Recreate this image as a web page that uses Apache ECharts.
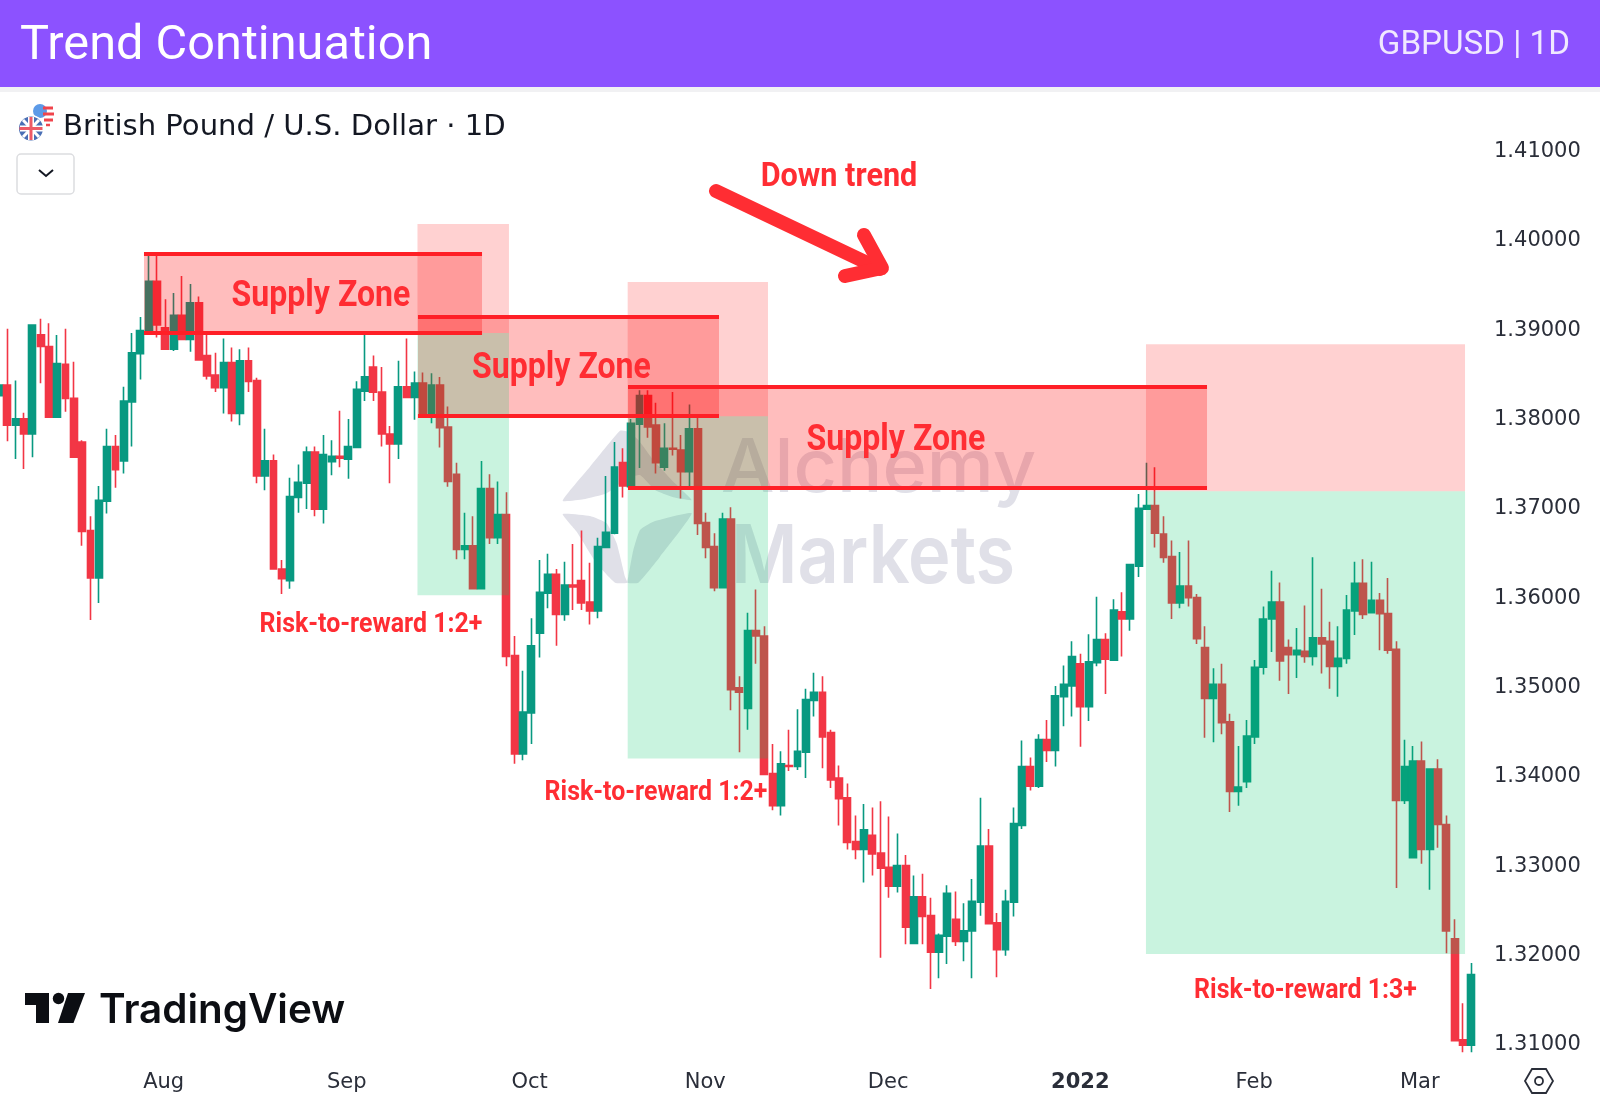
<!DOCTYPE html>
<html>
<head>
<meta charset="utf-8">
<title>Trend Continuation</title>
<script src="https://cdn.jsdelivr.net/npm/echarts@6/dist/echarts.min.js"></script>
<style>
  html, body { margin: 0; padding: 0; background: #fff; }
  #chart { width: 1600px; height: 1095px; }
</style>
</head>
<body>
<div id="chart"></div>
<script>
// daily candles
var opens = [
  1.3824,1.3836,1.3791,1.3798,1.3781,1.3892,1.3879,1.3800,1.3859,1.3821,
  1.3772,1.3673,1.3620,1.3706,1.3767,1.3751,1.3817,1.3871,1.3897,1.3952,
  1.3900,1.3876,1.3914,1.3887,1.3928,1.3869,1.3847,1.3833,1.3861,1.3804,
  1.3863,1.3841,1.3734,1.3751,1.3630,1.3617,1.3710,1.3726,1.3761,1.3697,
  1.3750,1.3756,1.3753,1.3766,1.3829,1.3856,1.3828,1.3781,1.3770,1.3834,
  1.3822,1.3838,1.3804,1.3836,1.3789,1.3736,1.3652,1.3656,1.3608,1.3720,
  1.3665,1.3691,1.3533,1.3423,1.3469,1.3558,1.3603,1.3624,1.3579,1.3612,
  1.3617,1.3593,1.3583,1.3654,1.3670,1.3749,1.3722,1.3792,1.3824,1.3791,
  1.3744,1.3765,1.3763,1.3739,1.3787,1.3682,1.3655,1.3609,1.3686,1.3497,
  1.3474,1.3561,1.3555,1.3401,1.3365,1.3410,1.3409,1.3425,1.3483,1.3492,
  1.3447,1.3396,1.3374,1.3325,1.3316,1.3332,1.3312,1.3296,1.3275,1.3298,
  1.3211,1.3263,1.3242,1.3201,1.3219,1.3238,1.3213,1.3225,1.3257,1.3320,
  1.3234,1.3204,1.3257,1.3343,1.3409,1.3387,1.3439,1.3427,1.3487,1.3499,
  1.3524,1.3476,1.3525,1.3551,1.3528,1.3582,1.3574,1.3633,1.3697,1.3701,
  1.3669,1.3644,1.3592,1.3611,1.3598,1.3542,1.3485,1.3501,1.3459,1.3381,
  1.3392,1.3442,1.3520,1.3574,1.3593,1.3542,1.3534,1.3538,1.3532,1.3553,
  1.3549,1.3521,1.3530,1.3583,1.3614,1.3581,1.3595,1.3580,1.3540,1.3371,
  1.3307,1.3415,1.3316,1.3406,1.3344,1.3216,1.3103,1.3097
];
var closes = [
  1.3836,1.3791,1.3798,1.3781,1.3903,1.3879,1.3800,1.3860,1.3821,1.3755,
  1.3672,1.3620,1.3707,1.3767,1.3741,1.3818,1.3872,1.3897,1.3952,1.3903,
  1.3876,1.3914,1.3887,1.3928,1.3864,1.3846,1.3833,1.3861,1.3804,1.3863,
  1.3840,1.3734,1.3751,1.3630,1.3619,1.3711,1.3727,1.3761,1.3697,1.3758,
  1.3756,1.3754,1.3767,1.3831,1.3845,1.3828,1.3781,1.3770,1.3834,1.3822,
  1.3838,1.3802,1.3836,1.3788,1.3728,1.3652,1.3656,1.3608,1.3720,1.3665,
  1.3691,1.3532,1.3423,1.3470,1.3544,1.3604,1.3624,1.3579,1.3612,1.3610,
  1.3592,1.3583,1.3655,1.3671,1.3744,1.3723,1.3793,1.3824,1.3789,1.3749,
  1.3765,1.3764,1.3739,1.3787,1.3681,1.3654,1.3609,1.3686,1.3495,1.3492,
  1.3561,1.3555,1.3400,1.3365,1.3412,1.3409,1.3426,1.3484,1.3492,1.3442,
  1.3394,1.3373,1.3324,1.3316,1.3338,1.3311,1.3295,1.3275,1.3298,1.3229,
  1.3263,1.3241,1.3201,1.3220,1.3267,1.3213,1.3225,1.3258,1.3320,1.3233,
  1.3204,1.3258,1.3345,1.3409,1.3387,1.3439,1.3427,1.3488,1.3501,1.3532,
  1.3476,1.3526,1.3551,1.3529,1.3584,1.3574,1.3635,1.3698,1.3701,1.3670,
  1.3643,1.3592,1.3611,1.3598,1.3552,1.3485,1.3501,1.3458,1.3381,1.3386,
  1.3443,1.3520,1.3574,1.3593,1.3527,1.3534,1.3539,1.3532,1.3553,1.3546,
  1.3521,1.3530,1.3584,1.3614,1.3579,1.3595,1.3580,1.3539,1.3371,1.3409,
  1.3415,1.3316,1.3406,1.3344,1.3225,1.3102,1.3097,1.3176
];
var lows = [
  1.3819,1.3773,1.3753,1.3742,1.3755,1.3838,1.3800,1.3800,1.3806,1.3755,
  1.3656,1.3573,1.3592,1.3692,1.3721,1.3737,1.3767,1.3842,1.3897,1.3889,
  1.3875,1.3874,1.3886,1.3873,1.3864,1.3842,1.3828,1.3804,1.3795,1.3791,
  1.3828,1.3726,1.3718,1.3630,1.3602,1.3608,1.3693,1.3697,1.3689,1.3681,
  1.3735,1.3744,1.3731,1.3766,1.3818,1.3818,1.3767,1.3726,1.3753,1.3822,
  1.3797,1.3802,1.3793,1.3766,1.3722,1.3641,1.3641,1.3608,1.3608,1.3658,
  1.3658,1.3521,1.3412,1.3416,1.3434,1.3531,1.3586,1.3544,1.3572,1.3584,
  1.3584,1.3568,1.3575,1.3654,1.3669,1.3710,1.3722,1.3743,1.3777,1.3737,
  1.3740,1.3757,1.3709,1.3722,1.3668,1.3642,1.3605,1.3609,1.3472,1.3425,
  1.3450,1.3524,1.3400,1.3360,1.3354,1.3404,1.3405,1.3396,1.3465,1.3407,
  1.3385,1.3343,1.3316,1.3305,1.3279,1.3287,1.3195,1.3262,1.3268,1.3210,
  1.3210,1.3210,1.3160,1.3172,1.3188,1.3208,1.3191,1.3172,1.3242,1.3232,
  1.3173,1.3197,1.3241,1.3339,1.3382,1.3385,1.3414,1.3409,1.3454,1.3465,
  1.3431,1.3460,1.3521,1.3490,1.3527,1.3532,1.3561,1.3621,1.3697,1.3654,
  1.3637,1.3574,1.3586,1.3588,1.3546,1.3441,1.3436,1.3445,1.3358,1.3365,
  1.3385,1.3434,1.3512,1.3537,1.3505,1.3490,1.3508,1.3525,1.3522,1.3513,
  1.3496,1.3487,1.3524,1.3556,1.3574,1.3581,1.3539,1.3535,1.3273,1.3367,
  1.3307,1.3300,1.3271,1.3318,1.3200,1.3102,1.3089,1.3089
];
var highs = [
  1.3841,1.3899,1.3841,1.3805,1.3903,1.3910,1.3905,1.3892,1.3899,1.3862,
  1.3774,1.3689,1.3723,1.3787,1.3780,1.3834,1.3894,1.3912,1.3981,1.3981,
  1.3932,1.3939,1.3958,1.3949,1.3935,1.3892,1.3872,1.3888,1.3878,1.3876,
  1.3878,1.3844,1.3787,1.3758,1.3640,1.3732,1.3747,1.3767,1.3767,1.3780,
  1.3774,1.3807,1.3798,1.3840,1.3892,1.3869,1.3856,1.3790,1.3863,1.3888,
  1.3851,1.3850,1.3849,1.3845,1.3812,1.3749,1.3693,1.3689,1.3751,1.3736,
  1.3728,1.3716,1.3555,1.3516,1.3575,1.3640,1.3647,1.3630,1.3638,1.3658,
  1.3673,1.3637,1.3665,1.3734,1.3772,1.3765,1.3798,1.3830,1.3830,1.3816,
  1.3793,1.3828,1.3780,1.3814,1.3800,1.3693,1.3670,1.3693,1.3699,1.3510,
  1.3581,1.3607,1.3566,1.3434,1.3426,1.3450,1.3473,1.3496,1.3514,1.3510,
  1.3450,1.3410,1.3390,1.3354,1.3367,1.3363,1.3370,1.3353,1.3334,1.3310,
  1.3287,1.3289,1.3262,1.3222,1.3276,1.3269,1.3256,1.3283,1.3374,1.3339,
  1.3245,1.3271,1.3363,1.3438,1.3419,1.3445,1.3461,1.3499,1.3522,1.3549,
  1.3535,1.3557,1.3599,1.3558,1.3596,1.3604,1.3636,1.3714,1.3749,1.3744,
  1.3689,1.3662,1.3649,1.3662,1.3602,1.3566,1.3519,1.3524,1.3468,1.3432,
  1.3461,1.3528,1.3588,1.3628,1.3615,1.3551,1.3564,1.3589,1.3643,1.3608,
  1.3571,1.3566,1.3601,1.3638,1.3641,1.3638,1.3603,1.3620,1.3549,1.3439,
  1.3432,1.3437,1.3406,1.3417,1.3354,1.3238,1.3144,1.3189
];
var priceTicks = [1.31, 1.32, 1.33, 1.34, 1.35, 1.36, 1.37, 1.38, 1.39, 1.40, 1.41];
var monthTicks = [19.8, 41.8, 63.8, 84.9, 106.9, 130, 150.9, 170.8];
var monthLabels = ['Aug', 'Sep', 'Oct', 'Nov', 'Dec', '2022', 'Feb', 'Mar'];

// [from candle, to candle, top price, bottom price]
var supplyZones = [
  [17.43, 58.07, 1.39824, 1.3894],
  [50.37, 86.56, 1.39119, 1.3801],
  [75.62, 145.23, 1.38335, 1.37204]
];
// [from candle, to candle, risk top, entry, reward bottom]
var rrBoxes = [
  [50.31, 61.31, 1.4016, 1.3894, 1.36006],
  [75.58, 92.45, 1.39511, 1.3801, 1.3418],
  [137.89, 176.25, 1.38816, 1.3717, 1.31991]
];

var RED = '#ff2d33';
var candles = opens.map(function (o, i) {
  return [i, o, closes[i], lows[i], highs[i]];
});

var areas = [];
supplyZones.forEach(function (z) {
  areas.push([
    { coord: [z[0], z[2]], itemStyle: { color: 'rgba(255,0,0,0.26)' } },
    { coord: [z[1], z[3]] }
  ]);
});
rrBoxes.forEach(function (b) {
  areas.push([
    { coord: [b[0], b[2]], itemStyle: { color: 'rgba(255,0,0,0.18)' } },
    { coord: [b[1], b[3]] }
  ]);
  areas.push([
    { coord: [b[0], b[3]], itemStyle: { color: 'rgba(0,196,105,0.21)' } },
    { coord: [b[1], b[4]] }
  ]);
});

var zoneLines = [];
supplyZones.forEach(function (z) {
  zoneLines.push([{ coord: [z[0], z[2]] }, { coord: [z[1], z[2]] }]);
  zoneLines.push([{ coord: [z[0], z[3]] }, { coord: [z[1], z[3]] }]);
});

function redText (text, x, y, size, scale) {
  return {
    type: 'text', x: x, y: y, scaleX: scale, z: 100,
    style: {
      text: text, fill: RED, align: 'center', verticalAlign: 'middle',
      font: 'bold ' + size + 'px Roboto'
    }
  };
}

function wmPoly (pts) {
  return {
    type: 'polygon', z: 1,
    shape: { points: pts.map(function (p) { return [540 + p[0] / 3, 410 + p[1] / 3]; }), smooth: 0.15 },
    style: { fill: '#e0e0e8' }
  };
}

function flagLine (x1, y1, x2, y2, color, w) {
  return {
    type: 'line', z: 101,
    shape: { x1: x1, y1: y1, x2: x2, y2: y2 },
    style: { stroke: color, lineWidth: w }
  };
}

var graphics = [
  // watermark, behind the candles
  wmPoly([[68,272],[150,170],[240,62],[265,65],[295,90],[340,150],[400,215],[455,270],[400,262],[345,240],[300,195],[262,205],[200,250],[130,268]]),
  wmPoly([[68,312],[150,318],[200,340],[230,400],[255,500],[262,518],[225,518],[170,460],[110,365]]),
  wmPoly([[455,310],[340,335],[300,360],[280,420],[265,500],[262,518],[295,518],[360,440]]),
  { type: 'text', z: 1, x: 721, y: 507, scaleX: 1.02, style: { text: 'Alchemy', fill: '#e0e0e8', font: '500 74px Inter', align: 'left', verticalAlign: 'bottom' } },
  { type: 'text', z: 1, x: 731, y: 599, scaleX: 0.89, style: { text: 'Markets', fill: '#e0e0e8', font: '600 81px Inter', align: 'left', verticalAlign: 'bottom' } },

  // header
  { type: 'rect', z: 90, shape: { x: 0, y: 0, width: 1600, height: 87 }, style: { fill: '#8c52ff' } },
  { type: 'rect', z: 89, shape: { x: 0, y: 87, width: 1600, height: 5 }, style: { fill: '#f1f1f3' } },
  { type: 'text', z: 100, x: 20, y: 47, style: { text: 'Trend Continuation', fill: '#fff', font: '48.7px Roboto', align: 'left', verticalAlign: 'middle' } },
  { type: 'text', z: 100, x: 1570, y: 46, style: { text: 'GBPUSD | 1D', fill: '#f0e8ff', font: '33.2px Roboto', align: 'right', verticalAlign: 'middle' } },

  // symbol line
  { type: 'circle', z: 100, shape: { cx: 43.5, cy: 115, r: 11 }, style: { fill: '#fff' } },
  flagLine(43, 108, 53, 108, '#f0444c', 3), flagLine(43, 114, 54, 114, '#f0444c', 3),
  flagLine(44, 120, 53, 120, '#f0444c', 3), flagLine(46, 125, 50, 125, '#f0444c', 2.5),
  { type: 'circle', z: 100, shape: { cx: 40, cy: 111, r: 7 }, style: { fill: '#5c9ae8' } },
  { type: 'circle', z: 100.5, shape: { cx: 31, cy: 128.5, r: 13.5 }, style: { fill: '#fff' } },
  { type: 'circle', z: 100.6, shape: { cx: 31, cy: 128.5, r: 12 }, style: { fill: '#4a6fb5' } },
  flagLine(23, 120, 39, 137, '#fff', 3), flagLine(39, 120, 23, 137, '#fff', 3),
  flagLine(31, 117, 31, 140, '#fff', 6), flagLine(20, 128.5, 43, 128.5, '#fff', 6),
  flagLine(31, 117, 31, 140, '#ee5a66', 3), flagLine(19.5, 128.5, 42.5, 128.5, '#ee5a66', 3),
  { type: 'text', z: 100, x: 63, y: 127, style: { text: 'British Pound / U.S. Dollar · 1D', fill: '#131722', font: '29.1px "DejaVu Sans"', align: 'left', verticalAlign: 'middle' } },
  { type: 'rect', z: 100, shape: { x: 17, y: 154, width: 57, height: 40, r: 4 }, style: { fill: '#fff', stroke: '#dcdde0', lineWidth: 1.5 } },
  { type: 'polyline', z: 101, shape: { points: [[39, 170], [46, 176], [53, 170]] }, style: { stroke: '#131722', lineWidth: 2, fill: null } },

  // annotations
  redText('Supply Zone', 321, 297, 36, 0.89),
  redText('Supply Zone', 561.5, 369, 36, 0.89),
  redText('Supply Zone', 896, 441, 36, 0.89),
  redText('Down trend', 839, 177, 34, 0.9),
  redText('Risk-to-reward 1:2+', 371, 625, 28, 0.89),
  redText('Risk-to-reward 1:2+', 656, 793, 28, 0.89),
  redText('Risk-to-reward 1:3+', 1305.5, 991, 28, 0.89),
  {
    type: 'polyline', z: 100,
    shape: { points: [[716, 191], [880, 269]] },
    style: { stroke: RED, lineWidth: 14, lineCap: 'round', fill: null }
  },
  {
    type: 'polyline', z: 100,
    shape: { points: [[864, 235], [882, 268], [845, 276]] },
    style: { stroke: RED, lineWidth: 14, lineCap: 'round', lineJoin: 'round', fill: null }
  },

  // TradingView mark
  { type: 'polygon', z: 100, shape: { points: [[25, 993], [49, 993], [49, 1023], [36, 1023], [36, 1005], [25, 1005]] }, style: { fill: '#0c0e13' } },
  { type: 'circle', z: 100, shape: { cx: 58.5, cy: 998.5, r: 5.7 }, style: { fill: '#0c0e13' } },
  { type: 'polygon', z: 100, shape: { points: [[68, 993], [85, 993], [73.5, 1023], [58, 1023]] }, style: { fill: '#0c0e13' } },
  { type: 'text', z: 100, x: 99, y: 1011, style: { text: 'TradingView', fill: '#0c0e13', font: '600 40.4px Inter', align: 'left', verticalAlign: 'middle' } },

  // chart settings button
  {
    type: 'polygon', z: 100,
    shape: { points: [[1525, 1081], [1532, 1069], [1546, 1069], [1553, 1081], [1546, 1093], [1532, 1093]] },
    style: { fill: '#fff', stroke: '#2a2e39', lineWidth: 1.8 }
  },
  { type: 'circle', z: 101, shape: { cx: 1539, cy: 1081, r: 4 }, style: { fill: '#fff', stroke: '#2a2e39', lineWidth: 1.8 } }
];

var chart = echarts.init(document.getElementById('chart'), null, { renderer: 'canvas' });
chart.setOption({
  animation: false,
  backgroundColor: '#fff',
  grid: { left: 0, right: 112, top: 90, bottom: 33 },
  xAxis: {
    type: 'value',
    min: 0.12,
    max: 179.01,
    axisLine: { show: false },
    axisTick: { show: false },
    splitLine: { show: false },
    axisLabel: {
      customValues: monthTicks,
      margin: 10,
      color: '#2a2e39',
      fontFamily: '"DejaVu Sans"',
      fontSize: 21,
      hideOverlap: false,
      formatter: function (v) {
        var s = monthLabels[monthTicks.indexOf(v)];
        return s === '2022' ? '{b|' + s + '}' : s;
      },
      rich: { b: { fontWeight: 'bold', fontSize: 21, fontFamily: '"DejaVu Sans"', color: '#2a2e39' } }
    }
  },
  yAxis: {
    type: 'value',
    position: 'right',
    min: 1.30782,
    max: 1.41661,
    scale: true,
    axisLine: { show: false },
    axisTick: { show: false },
    splitLine: { show: false },
    axisLabel: {
      customValues: priceTicks,
      margin: 6,
      formatter: function (v) { return '{p|' + v.toFixed(5) + '}'; },
      rich: { p: { padding: [5, 0, 0, 0], color: '#2a2e39', fontFamily: '"DejaVu Sans"', fontSize: 21 } }
    }
  },
  series: [{
    type: 'candlestick',
    data: candles,
    barWidth: 7.4,
    clip: true,
    itemStyle: {
      color: '#089981',
      color0: '#f23645',
      borderColor: '#089981',
      borderColor0: '#f23645',
      borderWidth: 1.6
    },
    markArea: {
      silent: true,
      z: 4,
      data: areas
    },
    markLine: {
      silent: true,
      z: 5,
      symbol: 'none',
      label: { show: false },
      lineStyle: { color: '#ff1f26', width: 4, type: 'solid' },
      data: zoneLines
    }
  }],
  graphic: { elements: graphics }
});
</script>
</body>
</html>
